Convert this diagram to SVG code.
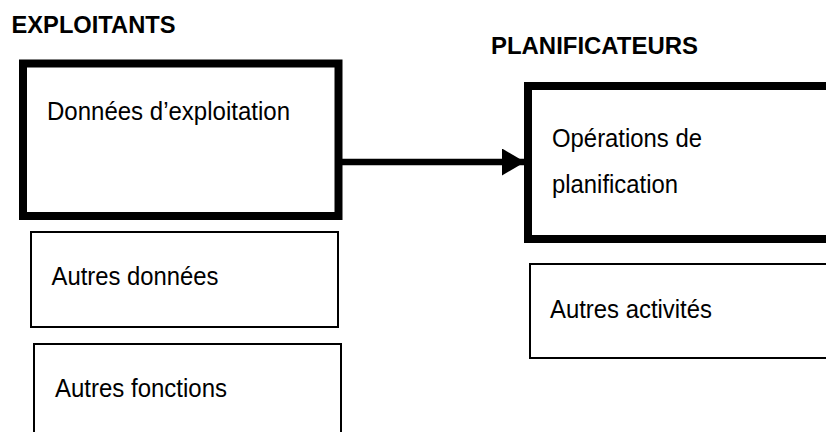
<svg xmlns="http://www.w3.org/2000/svg" width="826" height="432" viewBox="0 0 826 432">
  <style>
    .bg { fill: #ffffff; }
    .thick { fill: #ffffff; stroke: #000000; stroke-width: 8; stroke-linejoin: miter; }
    .thin { fill: #ffffff; stroke: #000000; stroke-width: 2; }
    .head { font-family: "Liberation Sans", Arial, sans-serif; font-weight: bold; font-size: 23px; fill: #000000; }
    .lbl { font-family: "Liberation Sans", Arial, sans-serif; font-size: 26.5px; fill: #000000; }
    .conn { stroke: #000000; stroke-width: 6.5; fill: none; }
  </style>
  <defs>
    <marker id="arrowhead" markerUnits="userSpaceOnUse" markerWidth="24" markerHeight="28" refX="23" refY="13.5" orient="auto">
      <path d="M0,0 L23,13.5 L0,27 Z" fill="#000000"/>
    </marker>
  </defs>
  <rect class="bg" x="0" y="0" width="826" height="432"/>

  <text class="head" x="11.5" y="33.3" textLength="164" lengthAdjust="spacingAndGlyphs">EXPLOITANTS</text>
  <text class="head" x="491" y="54" textLength="207" lengthAdjust="spacingAndGlyphs">PLANIFICATEURS</text>

  <g id="donnees-exploitation">
    <rect class="thick" x="23" y="63.5" width="315.5" height="152.5"/>
    <text class="lbl" x="47" y="119.5" textLength="243" lengthAdjust="spacingAndGlyphs">Données d’exploitation</text>
  </g>

  <g id="autres-donnees">
    <rect class="thin" x="31" y="232" width="307" height="95"/>
    <text class="lbl" x="51.5" y="284.5" textLength="167" lengthAdjust="spacingAndGlyphs">Autres données</text>
  </g>

  <g id="autres-fonctions">
    <rect class="thin" x="34" y="344" width="307" height="100"/>
    <text class="lbl" x="55" y="396.5" textLength="172" lengthAdjust="spacingAndGlyphs">Autres fonctions</text>
  </g>

  <g id="operations-planification">
    <rect class="thick" x="528" y="86" width="310" height="153"/>
    <text class="lbl" x="552" y="147" textLength="150" lengthAdjust="spacingAndGlyphs">Opérations de</text>
    <text class="lbl" x="552" y="193" textLength="126" lengthAdjust="spacingAndGlyphs">planification</text>
  </g>

  <g id="autres-activites">
    <rect class="thin" x="530" y="264" width="310" height="94"/>
    <text class="lbl" x="550" y="317.5" textLength="162" lengthAdjust="spacingAndGlyphs">Autres activités</text>
  </g>

  <g id="connectors">
    <line class="conn" x1="342" y1="162" x2="525" y2="162" marker-end="url(#arrowhead)"/>
  </g>
</svg>
